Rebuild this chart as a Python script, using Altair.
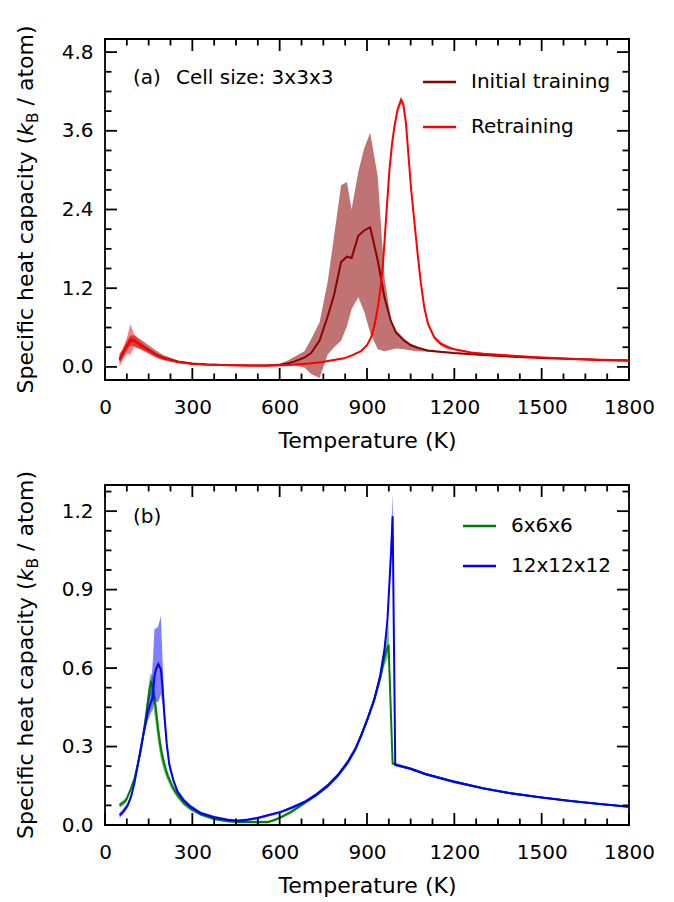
import altair as alt
import pandas as pd

# ---------------- Panel (a): cell size 3x3x3 ----------------
init_T = [50, 75, 87, 100, 125, 150, 175, 200, 250, 300, 350, 400, 450, 500, 550, 600, 625, 650, 685,
          708, 737, 765, 787, 811, 831, 847, 870, 890, 911, 937, 960, 982, 1000, 1028, 1051, 1075, 1108,
          1150, 1200, 1300, 1400, 1500, 1600, 1700, 1800]
init_mean = [0.12, 0.32, 0.40, 0.40, 0.33, 0.26, 0.19, 0.14, 0.08, 0.05, 0.035, 0.03, 0.025, 0.02, 0.02,
             0.03, 0.05, 0.08, 0.14, 0.21, 0.40, 0.77, 1.10, 1.60, 1.68, 1.66, 2.00, 2.08, 2.13, 1.62,
             1.06, 0.70, 0.52, 0.40, 0.33, 0.29, 0.25, 0.23, 0.21, 0.18, 0.155, 0.135, 0.12, 0.105, 0.095]
init_hi = [0.18, 0.39, 0.48, 0.48, 0.41, 0.33, 0.25, 0.18, 0.10, 0.06, 0.045, 0.035, 0.03, 0.025, 0.03,
           0.05, 0.09, 0.15, 0.24, 0.42, 0.68, 1.30, 2.00, 2.77, 2.82, 2.40, 2.97, 3.33, 3.57, 2.90,
           1.37, 0.72, 0.56, 0.43, 0.35, 0.31, 0.26, 0.24, 0.22, 0.19, 0.16, 0.14, 0.125, 0.11, 0.10]
init_lo = [0.06, 0.25, 0.32, 0.32, 0.26, 0.20, 0.14, 0.10, 0.06, 0.04, 0.03, 0.025, 0.02, 0.015, 0.01,
           0.01, 0.01, 0.02, -0.01, -0.11, -0.17, 0.19, 0.30, 0.40, 0.62, 0.88, 1.06, 0.85, 0.52, 0.27,
           0.24, 0.26, 0.28, 0.27, 0.25, 0.24, 0.23, 0.22, 0.20, 0.17, 0.15, 0.13, 0.115, 0.10, 0.09]

retr_T = [50, 62, 75, 87, 100, 125, 150, 175, 200, 250, 300, 350, 400, 450, 500, 550, 600, 650, 700,
          742, 780, 821, 850, 879, 900, 914, 925, 937, 945, 954, 965, 977, 986, 994, 1005, 1017, 1025,
          1034, 1042, 1051, 1063, 1074, 1085, 1097, 1110, 1131, 1154, 1177, 1200, 1257, 1300, 1400,
          1500, 1600, 1700, 1800]
retr_mean = [0.10, 0.20, 0.32, 0.42, 0.40, 0.32, 0.25, 0.18, 0.13, 0.075, 0.045, 0.035, 0.03, 0.025,
             0.02, 0.02, 0.025, 0.035, 0.05, 0.07, 0.10, 0.13, 0.18, 0.24, 0.33, 0.45, 0.62, 0.90, 1.15,
             1.52, 2.23, 3.00, 3.40, 3.66, 3.92, 4.07, 4.00, 3.71, 3.25, 2.74, 2.20, 1.72, 1.28, 0.90,
             0.65, 0.45, 0.35, 0.30, 0.27, 0.22, 0.20, 0.17, 0.145, 0.125, 0.11, 0.10]
retr_err = [0.10, 0.08, 0.12, 0.23, 0.10, 0.05, 0.03, 0.02, 0.015, 0.01, 0.01, 0.01, 0.01, 0.01,
            0.01, 0.01, 0.01, 0.01, 0.01, 0.01, 0.01, 0.01, 0.01, 0.01, 0.015, 0.02, 0.05, 0.05, 0.05,
            0.05, 0.05, 0.05, 0.05, 0.05, 0.05, 0.05, 0.05, 0.05, 0.05, 0.05, 0.05, 0.05, 0.05, 0.05,
            0.03, 0.03, 0.03, 0.03, 0.01, 0.01, 0.01, 0.01, 0.01, 0.01, 0.01, 0.01]

# ---------------- Panel (b): 6x6x6 and 12x12x12 ----------------
g_T = [50, 62, 72, 86, 101, 112, 124, 136, 147, 153, 158, 164, 170, 175, 183, 192, 204, 215, 232, 250,
       270, 295, 330, 375, 420, 460, 501, 530, 559, 580, 605, 640, 673, 700, 725, 765, 800, 834, 860,
       879, 900, 925, 945, 960, 968, 974, 988, 1050, 1100, 1200, 1300, 1400, 1500, 1600, 1700, 1800]
g_mean = [0.075, 0.085, 0.094, 0.13, 0.176, 0.23, 0.29, 0.38, 0.47, 0.52, 0.545, 0.53, 0.48, 0.44,
          0.36, 0.29, 0.23, 0.19, 0.145, 0.113, 0.085, 0.062, 0.04, 0.023, 0.015, 0.011, 0.011, 0.011,
          0.011, 0.018, 0.03, 0.05, 0.075, 0.095, 0.115, 0.15, 0.19, 0.24, 0.29, 0.34, 0.40, 0.48,
          0.56, 0.64, 0.67, 0.69, 0.235, 0.215, 0.195, 0.165, 0.14, 0.12, 0.105, 0.092, 0.08, 0.07]
g_lo = [0.065, 0.075, 0.084, 0.12, 0.165, 0.215, 0.275, 0.36, 0.44, 0.48, 0.50, 0.47, 0.42, 0.38,
        0.31, 0.25, 0.20, 0.17, 0.13, 0.10, 0.075, 0.054, 0.034, 0.018, 0.01, 0.006, 0.006, 0.006,
        0.006, 0.013, 0.025, 0.044, 0.069, 0.089, 0.108, 0.142, 0.182, 0.23, 0.28, 0.33, 0.39, 0.465,
        0.54, 0.61, 0.63, 0.65, 0.23, 0.21, 0.19, 0.16, 0.136, 0.116, 0.102, 0.089, 0.077, 0.067]
g_hi = [0.085, 0.095, 0.104, 0.14, 0.187, 0.245, 0.305, 0.40, 0.50, 0.56, 0.58, 0.57, 0.52, 0.48,
        0.40, 0.32, 0.25, 0.205, 0.16, 0.125, 0.095, 0.07, 0.046, 0.028, 0.02, 0.016, 0.016, 0.016,
        0.016, 0.023, 0.035, 0.056, 0.081, 0.101, 0.122, 0.158, 0.198, 0.25, 0.30, 0.35, 0.41, 0.495,
        0.58, 0.67, 0.73, 0.77, 0.24, 0.22, 0.20, 0.17, 0.144, 0.124, 0.108, 0.095, 0.083, 0.073]

b_T = [50, 62, 78, 90, 101, 112, 124, 136, 147, 158, 164, 170, 175, 183, 192, 198, 204, 212, 221, 235,
       250, 270, 295, 330, 375, 420, 456, 490, 524, 560, 605, 645, 685, 725, 765, 800, 834, 860, 879,
       900, 925, 945, 960, 970, 977, 983, 988, 997, 1050, 1100, 1200, 1300, 1400, 1500, 1600, 1700, 1800]
b_mean = [0.037, 0.05, 0.075, 0.11, 0.16, 0.225, 0.30, 0.37, 0.43, 0.47, 0.49, 0.57, 0.595, 0.615,
          0.595, 0.52, 0.42, 0.31, 0.23, 0.17, 0.126, 0.095, 0.069, 0.045, 0.03, 0.02, 0.016, 0.02,
          0.027, 0.037, 0.05, 0.068, 0.088, 0.115, 0.15, 0.19, 0.24, 0.29, 0.34, 0.40, 0.48, 0.57,
          0.67, 0.78, 0.925, 1.05, 1.18, 0.23, 0.215, 0.195, 0.165, 0.14, 0.12, 0.105, 0.092, 0.08, 0.07]
b_lo = [0.027, 0.04, 0.065, 0.10, 0.15, 0.21, 0.285, 0.35, 0.40, 0.43, 0.44, 0.48, 0.47, 0.47, 0.50,
        0.46, 0.38, 0.29, 0.215, 0.16, 0.116, 0.087, 0.062, 0.039, 0.025, 0.015, 0.011, 0.015, 0.022,
        0.032, 0.045, 0.062, 0.082, 0.108, 0.142, 0.182, 0.23, 0.28, 0.33, 0.39, 0.47, 0.56, 0.65,
        0.76, 0.89, 1.00, 1.10, 0.225, 0.21, 0.19, 0.16, 0.136, 0.116, 0.102, 0.089, 0.077, 0.067]
b_hi = [0.047, 0.06, 0.085, 0.12, 0.17, 0.24, 0.315, 0.39, 0.47, 0.53, 0.62, 0.75, 0.75, 0.76, 0.80,
        0.62, 0.46, 0.34, 0.245, 0.18, 0.136, 0.103, 0.076, 0.051, 0.035, 0.025, 0.021, 0.025, 0.032,
        0.042, 0.055, 0.074, 0.094, 0.122, 0.158, 0.198, 0.25, 0.30, 0.35, 0.41, 0.49, 0.58, 0.69,
        0.80, 0.97, 1.12, 1.27, 0.235, 0.22, 0.20, 0.17, 0.144, 0.124, 0.108, 0.095, 0.083, 0.073]

# ---------------- ticks ----------------
X_MAJOR = [0, 300, 600, 900, 1200, 1500, 1800]
X_MINOR = [75, 150, 225, 375, 450, 525, 675, 750, 825, 975, 1050, 1125, 1275, 1350, 1425,
           1575, 1650, 1725]
YA_MAJOR = [0.0, 1.2, 2.4, 3.6, 4.8]
YA_MINOR = [0.3, 0.6, 0.9, 1.5, 1.8, 2.1, 2.7, 3.0, 3.3, 3.9, 4.2, 4.5]
YB_MAJOR = [0.0, 0.3, 0.6, 0.9, 1.2]
YB_MINOR = [0.075, 0.15, 0.225, 0.375, 0.45, 0.525, 0.675, 0.75, 0.825, 0.975, 1.05, 1.125, 1.275]

FONT = "DejaVu Sans"
W = 524
HA = 341
HB = 340
TICK_FS = 20
TITLE_FS = 22
LEG_FS = 20
MAJ = 12
MIN = 6.5
TW = 1.8

xscale = alt.Scale(domain=[0, 1800], nice=False, zero=False)
ya_scale = alt.Scale(domain=[-0.2, 5.0], nice=False, zero=False)
yb_scale = alt.Scale(domain=[0.0, 1.3], nice=False, zero=False)

X_AXIS = alt.Axis(
    orient="bottom", values=X_MAJOR, format="d", title="Temperature (K)",
    ticks=False, tickSize=0, domain=False, grid=False, labelFont=FONT,
    labelFontSize=TICK_FS, labelColor="black", labelPadding=17, labelFlush=False,
    labelOverlap=False, titleFont=FONT, titleFontSize=TITLE_FS, titleFontWeight="normal",
    titleColor="black", titlePadding=13)


def y_axis(ymajor):
    return alt.Axis(
        orient="left", values=ymajor, format=".1f", title=None, ticks=False, tickSize=0,
        domain=False, grid=False, labelFont=FONT, labelFontSize=TICK_FS, labelColor="black",
        labelPadding=12, labelFlush=False, labelOverlap=False)


one = pd.DataFrame({"a": [0]})


def series_layers(T, mean, lo, hi, color, ysc, yax, band_opacity=0.5):
    df = pd.DataFrame({"T": T, "mean": mean, "lo": lo, "hi": hi})
    base = alt.Chart(df)
    band = base.mark_area(color=color, opacity=band_opacity, clip=True).encode(
        x=alt.X("T:Q", scale=xscale, axis=X_AXIS),
        y=alt.Y("lo:Q", scale=ysc, axis=yax),
        y2="hi:Q")
    line = base.mark_line(color=color, strokeWidth=2, clip=True).encode(
        x=alt.X("T:Q", scale=xscale, axis=X_AXIS),
        y=alt.Y("mean:Q", scale=ysc, axis=yax))
    return [band, line]


def x_ticks(values, H, length):
    df = pd.DataFrame({"T": values})
    base = alt.Chart(df)
    bottom = base.mark_rule(color="black", strokeWidth=TW).encode(
        x=alt.X("T:Q", scale=xscale, axis=X_AXIS), y=alt.value(H), y2=alt.value(H - length))
    top = base.mark_rule(color="black", strokeWidth=TW).encode(
        x=alt.X("T:Q", scale=xscale, axis=X_AXIS), y=alt.value(0), y2=alt.value(length))
    return [bottom, top]


def y_ticks(values, ysc, yax, length):
    df = pd.DataFrame({"mean": values})
    base = alt.Chart(df)
    left = base.mark_rule(color="black", strokeWidth=TW).encode(
        y=alt.Y("mean:Q", scale=ysc, axis=yax), x=alt.value(0), x2=alt.value(length))
    right = base.mark_rule(color="black", strokeWidth=TW).encode(
        y=alt.Y("mean:Q", scale=ysc, axis=yax), x=alt.value(W), x2=alt.value(W - length))
    return [left, right]


def text_layer(text, x, y, size=LEG_FS, style="normal", align="left", baseline="middle",
               angle=0, dx=0, dy=0):
    return alt.Chart(one).mark_text(
        text=text, font=FONT, fontSize=size, fontStyle=style, align=align, baseline=baseline,
        angle=angle, dx=dx, dy=dy, color="black").encode(x=alt.value(x), y=alt.value(y))


def legend_line(x1, x2, y, color):
    return alt.Chart(one).mark_rule(color=color, strokeWidth=2.5).encode(
        x=alt.value(x1), x2=alt.value(x2), y=alt.value(y))


def ytitle_layers(H):
    f = TITLE_FS
    fs = 15.4
    w1 = 11.714 * f
    wk = 0.579 * f
    wB = 0.686 * fs
    wsp = 0.318 * f
    w4 = 3.636 * f
    s = -(w1 + wk + wB + wsp + w4) / 2
    x0 = -72
    y0 = H / 2
    return [
        text_layer("Specific heat capacity (", x0, y0, size=f, baseline="alphabetic", angle=270, dx=s),
        text_layer("k", x0, y0, size=f, style="italic", baseline="alphabetic", angle=270, dx=s + w1),
        text_layer("B", x0, y0, size=fs, baseline="alphabetic", angle=270, dx=s + w1 + wk, dy=5),
        text_layer("/ atom)", x0, y0, size=f, baseline="alphabetic", angle=270,
                   dx=s + w1 + wk + wB + wsp),
    ]


def frame_ticks(H, ysc, yax, ymajor, yminor):
    return (x_ticks(X_MAJOR, H, MAJ) + x_ticks(X_MINOR, H, MIN)
            + y_ticks(ymajor, ysc, yax, MAJ) + y_ticks(yminor, ysc, yax, MIN))


YA_AXIS = y_axis(YA_MAJOR)
YB_AXIS = y_axis(YB_MAJOR)

layers_a = (
    series_layers(init_T, init_mean, init_lo, init_hi, "#8b0000", ya_scale, YA_AXIS, 0.55)
    + series_layers(retr_T, retr_mean, [m - e for m, e in zip(retr_mean, retr_err)],
                    [m + e for m, e in zip(retr_mean, retr_err)], "#ff0000", ya_scale, YA_AXIS)
    + frame_ticks(HA, ya_scale, YA_AXIS, YA_MAJOR, YA_MINOR)
    + ytitle_layers(HA)
    + [text_layer("(a)", 28, 39), text_layer("Cell size: 3x3x3", 71, 39),
       legend_line(318, 351, 43, "#8b0000"), text_layer("Initial training", 366, 43),
       legend_line(318, 351, 88, "#ff0000"), text_layer("Retraining", 366, 88)]
)

layers_b = (
    series_layers(g_T, g_mean, g_lo, g_hi, "#008000", yb_scale, YB_AXIS)
    + series_layers(b_T, b_mean, b_lo, b_hi, "#0000ff", yb_scale, YB_AXIS)
    + frame_ticks(HB, yb_scale, YB_AXIS, YB_MAJOR, YB_MINOR)
    + ytitle_layers(HB)
    + [text_layer("(b)", 28, 32),
       legend_line(358, 391, 41, "#008000"), text_layer("6x6x6", 406, 41),
       legend_line(358, 391, 81, "#0000ff"), text_layer("12x12x12", 406, 81)]
)

panel_a = alt.layer(*layers_a).properties(width=W, height=HA)
panel_b = alt.layer(*layers_b).properties(width=W, height=HB)

chart = alt.vconcat(panel_a, panel_b, spacing=18).properties(
    padding={"left": 6, "top": 16, "right": 5, "bottom": 5}
).configure_view(stroke="black", strokeWidth=1.8)

chart.save("out.html", embed_options={"renderer": "svg", "actions": False})
